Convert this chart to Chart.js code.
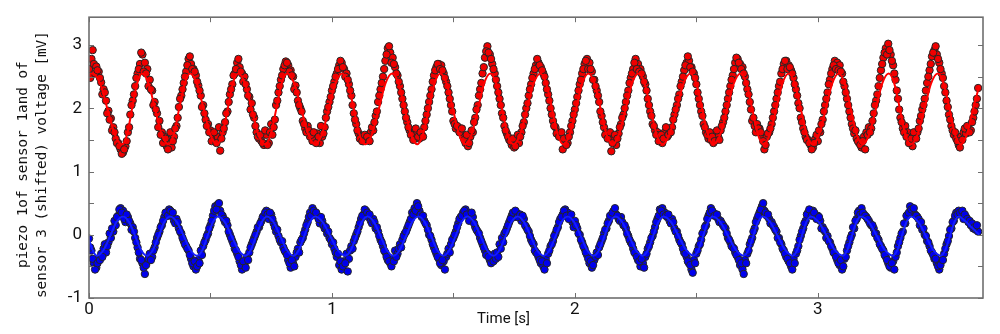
<!DOCTYPE html>
<html>
<head>
<meta charset="utf-8">
<script src="https://cdn.jsdelivr.net/npm/chart.js@4.4.1/dist/chart.umd.min.js"></script>
<style>
  html, body { margin: 0; padding: 0; background: #fff; }
  #wrap { width: 1000px; height: 334px; position: relative; }
</style>
</head>
<body>
<div id="wrap"><canvas id="myChart"></canvas></div>
<script>
// sample times [s], first pass
const t = [
  0.00,0.01,0.02,0.03,0.04,0.05,0.06,0.07,0.08,0.09,
  0.10,0.11,0.12,0.13,0.14,0.15,0.16,0.17,0.18,0.19,
  0.20,0.21,0.22,0.23,0.24,0.25,0.26,0.27,0.28,0.29,
  0.30,0.31,0.32,0.33,0.34,0.35,0.36,0.37,0.38,0.39,
  0.40,0.41,0.42,0.43,0.44,0.45,0.46,0.47,0.48,0.49,
  0.50,0.51,0.52,0.53,0.54,0.55,0.56,0.57,0.58,0.59,
  0.60,0.61,0.62,0.63,0.64,0.65,0.66,0.67,0.68,0.69,
  0.70,0.71,0.72,0.73,0.74,0.75,0.76,0.77,0.78,0.79,
  0.80,0.81,0.82,0.83,0.84,0.85,0.86,0.87,0.88,0.89,
  0.90,0.91,0.92,0.93,0.94,0.95,0.96,0.97,0.98,0.99,
  1.00,1.01,1.02,1.03,1.04,1.05,1.06,1.07,1.08,1.09,
  1.10,1.11,1.12,1.13,1.14,1.15,1.16,1.17,1.18,1.19,
  1.20,1.21,1.22,1.23,1.24,1.25,1.26,1.27,1.28,1.29,
  1.30,1.31,1.32,1.33,1.34,1.35,1.36,1.37,1.38,1.39,
  1.40,1.41,1.42,1.43,1.44,1.45,1.46,1.47,1.48,1.49,
  1.50,1.51,1.52,1.53,1.54,1.55,1.56,1.57,1.58,1.59,
  1.60,1.61,1.62,1.63,1.64,1.65,1.66,1.67,1.68,1.69,
  1.70,1.71,1.72,1.73,1.74,1.75,1.76,1.77,1.78,1.79,
  1.80,1.81,1.82,1.83,1.84,1.85,1.86,1.87,1.88,1.89,
  1.90,1.91,1.92,1.93,1.94,1.95,1.96,1.97,1.98,1.99,
  2.00,2.01,2.02,2.03,2.04,2.05,2.06,2.07,2.08,2.09,
  2.10,2.11,2.12,2.13,2.14,2.15,2.16,2.17,2.18,2.19,
  2.20,2.21,2.22,2.23,2.24,2.25,2.26,2.27,2.28,2.29,
  2.30,2.31,2.32,2.33,2.34,2.35,2.36,2.37,2.38,2.39,
  2.40,2.41,2.42,2.43,2.44,2.45,2.46,2.47,2.48,2.49,
  2.50,2.51,2.52,2.53,2.54,2.55,2.56,2.57,2.58,2.59,
  2.60,2.61,2.62,2.63,2.64,2.65,2.66,2.67,2.68,2.69,
  2.70,2.71,2.72,2.73,2.74,2.75,2.76,2.77,2.78,2.79,
  2.80,2.81,2.82,2.83,2.84,2.85,2.86,2.87,2.88,2.89,
  2.90,2.91,2.92,2.93,2.94,2.95,2.96,2.97,2.98,2.99,
  3.00,3.01,3.02,3.03,3.04,3.05,3.06,3.07,3.08,3.09,
  3.10,3.11,3.12,3.13,3.14,3.15,3.16,3.17,3.18,3.19,
  3.20,3.21,3.22,3.23,3.24,3.25,3.26,3.27,3.28,3.29,
  3.30,3.31,3.32,3.33,3.34,3.35,3.36,3.37,3.38,3.39,
  3.40,3.41,3.42,3.43,3.44,3.45,3.46,3.47,3.48,3.49,
  3.50,3.51,3.52,3.53,3.54,3.55,3.56,3.57,3.58,3.59,
  3.60,3.61,3.62,3.63,3.64,3.65,3.66
]

// piezo 1 (shifted up) [mV]
const redY = [
  2.62,2.78,2.70,2.66,2.58,2.41,2.30,2.12,1.96,1.84,
  1.70,1.52,1.45,1.35,1.30,1.40,1.62,1.90,2.12,2.35,
  2.55,2.70,2.85,2.72,2.62,2.45,2.28,2.10,1.92,1.80,
  1.62,1.55,1.40,1.50,1.38,1.55,1.72,2.02,2.20,2.40,
  2.58,2.78,2.70,2.62,2.52,2.36,2.20,2.05,1.82,1.75,
  1.65,1.58,1.50,1.55,1.33,1.62,1.78,1.95,2.22,2.38,
  2.55,2.72,2.65,2.55,2.50,2.30,2.18,2.08,1.85,1.62,
  1.52,1.48,1.42,1.58,1.45,1.75,1.70,2.05,2.25,2.45,
  2.62,2.74,2.68,2.60,2.50,2.36,2.12,2.00,1.80,1.68,
  1.72,1.55,1.48,1.52,1.60,1.45,1.55,1.70,1.95,2.10,
  2.28,2.42,2.55,2.68,2.72,2.62,2.55,2.38,2.20,1.92,
  1.75,1.60,1.55,1.48,1.52,1.58,1.62,1.65,1.88,2.10,
  2.30,2.50,2.75,2.95,2.88,2.80,2.65,2.52,2.35,2.15,
  1.95,1.78,1.65,1.58,1.62,1.60,1.52,1.58,1.70,1.90,
  2.10,2.30,2.52,2.65,2.70,2.68,2.55,2.42,2.25,2.05,
  1.80,1.68,1.70,1.62,1.55,1.45,1.40,1.55,1.62,1.85,
  2.05,2.30,2.55,2.80,2.98,2.85,2.70,2.55,2.35,2.15,
  1.92,1.72,1.60,1.50,1.42,1.38,1.52,1.45,1.62,1.78,
  2.00,2.20,2.38,2.55,2.68,2.72,2.65,2.55,2.40,2.22,
  2.00,1.80,1.70,1.62,1.58,1.35,1.50,1.45,1.62,1.80,
  1.98,2.18,2.38,2.55,2.70,2.78,2.72,2.58,2.45,2.28,
  2.10,1.88,1.70,1.62,1.55,1.32,1.50,1.42,1.60,1.75,
  1.90,2.10,2.28,2.48,2.62,2.78,2.70,2.62,2.50,2.38,
  2.15,1.95,1.75,1.65,1.62,1.55,1.45,1.62,1.55,1.65,
  1.70,1.90,2.05,2.22,2.42,2.60,2.72,2.75,2.65,2.55,
  2.38,2.15,1.95,1.75,1.62,1.52,1.50,1.45,1.58,1.55,
  1.65,1.78,1.95,2.15,2.35,2.52,2.72,2.78,2.70,2.65,
  2.50,2.30,2.10,1.80,1.72,1.75,1.68,1.58,1.35,1.55,
  1.62,1.75,1.95,2.15,2.35,2.55,2.70,2.75,2.68,2.60,
  2.48,2.30,2.08,1.85,1.68,1.55,1.50,1.42,1.38,1.52,
  1.48,1.62,1.82,2.05,2.25,2.45,2.62,2.75,2.72,2.68,
  2.55,2.35,2.15,1.95,1.75,1.60,1.52,1.45,1.38,1.55,
  1.62,1.70,1.68,1.92,2.12,2.35,2.60,2.80,2.95,3.02,
  2.85,2.68,2.45,2.15,1.85,1.68,1.72,1.62,1.50,1.40,
  1.55,1.62,1.80,1.98,2.15,2.40,2.60,2.82,2.92,2.85,
  2.72,2.55,2.35,2.12,1.90,1.72,1.58,1.52,1.42,1.55,
  1.62,1.60,1.70,1.65,1.85,2.05,2.32
]

// sensor 3 [mV]
const blueY = [
  -0.06,-0.25,-0.45,-0.52,-0.38,-0.30,-0.22,-0.28,-0.12,-0.05,
  0.05,0.15,0.30,0.42,0.38,0.20,0.28,0.18,0.12,-0.05,
  -0.20,-0.38,-0.45,-0.62,-0.42,-0.30,-0.35,-0.20,-0.05,0.05,
  0.15,0.28,0.35,0.40,0.30,0.22,0.25,0.10,0.02,-0.10,
  -0.18,-0.25,-0.38,-0.50,-0.55,-0.40,-0.25,-0.18,-0.08,0.02,
  0.15,0.30,0.45,0.48,0.38,0.30,0.20,0.15,0.00,-0.10,
  -0.22,-0.30,-0.42,-0.55,-0.48,-0.35,-0.28,-0.15,-0.05,0.05,
  0.12,0.22,0.30,0.38,0.25,0.32,0.18,0.05,-0.02,-0.12,
  -0.20,-0.28,-0.40,-0.52,-0.45,-0.35,-0.22,-0.12,-0.05,0.08,
  0.20,0.35,0.42,0.32,0.30,0.18,0.22,0.10,0.02,-0.05,
  -0.15,-0.22,-0.35,-0.48,-0.55,-0.42,-0.30,-0.38,-0.18,-0.10,
  0.00,0.12,0.25,0.32,0.38,0.28,0.22,0.25,0.10,0.05,
  -0.08,-0.18,-0.28,-0.40,-0.45,-0.38,-0.25,-0.30,-0.15,-0.08,
  0.02,0.10,0.20,0.35,0.42,0.50,0.38,0.28,0.22,0.15,
  0.00,-0.08,-0.20,-0.30,-0.38,-0.48,-0.42,-0.35,-0.22,-0.15,
  -0.05,0.05,0.18,0.28,0.35,0.40,0.30,0.25,0.28,0.12,
  0.05,-0.05,-0.15,-0.25,-0.30,-0.40,-0.38,-0.30,-0.28,-0.15,
  -0.05,0.02,0.10,0.20,0.30,0.28,0.35,0.30,0.22,0.25,
  0.12,0.05,-0.08,-0.15,-0.28,-0.35,-0.45,-0.50,-0.38,-0.30,
  -0.18,-0.10,0.02,0.12,0.25,0.32,0.40,0.35,0.28,0.20,
  0.22,0.10,0.00,-0.12,-0.22,-0.32,-0.45,-0.52,-0.40,-0.28,
  -0.20,-0.10,0.02,0.10,0.22,0.30,0.38,0.32,0.25,0.28,
  0.15,0.10,-0.02,-0.12,-0.22,-0.30,-0.40,-0.50,-0.45,-0.35,
  -0.22,-0.12,-0.02,0.12,0.25,0.40,0.42,0.35,0.28,0.22,
  0.25,0.10,0.05,-0.08,-0.15,-0.28,-0.35,-0.45,-0.55,-0.40,
  -0.30,-0.18,-0.08,0.05,0.15,0.30,0.42,0.35,0.30,0.25,
  0.22,0.15,0.10,-0.05,-0.12,-0.20,-0.28,-0.35,-0.48,-0.55,
  -0.40,-0.30,-0.15,-0.05,0.10,0.25,0.35,0.45,0.38,0.30,
  0.25,0.20,0.12,0.05,-0.05,-0.15,-0.25,-0.35,-0.42,-0.50,
  -0.38,-0.30,-0.18,-0.02,0.10,0.22,0.35,0.32,0.38,0.28,
  0.30,0.22,0.12,0.05,-0.02,-0.12,-0.22,-0.30,-0.40,-0.48,
  -0.55,-0.38,-0.25,-0.12,0.00,0.10,0.25,0.38,0.42,0.32,
  0.28,0.22,0.15,0.10,0.02,-0.08,-0.18,-0.25,-0.35,-0.45,
  -0.52,-0.42,-0.35,-0.18,-0.05,0.05,0.18,0.32,0.45,0.38,
  0.32,0.28,0.15,0.08,0.00,-0.10,-0.18,-0.28,-0.38,-0.45,
  -0.55,-0.40,-0.30,-0.15,-0.02,0.10,0.22,0.35,0.38,0.32,
  0.25,0.28,0.20,0.15,0.10,0.08,0.05
]

// sample times [s], second pass (in between)
const t2 = [
  0.005,0.015,0.025,0.035,0.045,0.055,0.065,0.075,0.085,0.095,
  0.105,0.115,0.125,0.135,0.145,0.155,0.165,0.175,0.185,0.195,
  0.205,0.215,0.225,0.235,0.245,0.255,0.265,0.275,0.285,0.295,
  0.305,0.315,0.325,0.335,0.345,0.355,0.365,0.375,0.385,0.395,
  0.405,0.415,0.425,0.435,0.445,0.455,0.465,0.475,0.485,0.495,
  0.505,0.515,0.525,0.535,0.545,0.555,0.565,0.575,0.585,0.595,
  0.605,0.615,0.625,0.635,0.645,0.655,0.665,0.675,0.685,0.695,
  0.705,0.715,0.725,0.735,0.745,0.755,0.765,0.775,0.785,0.795,
  0.805,0.815,0.825,0.835,0.845,0.855,0.865,0.875,0.885,0.895,
  0.905,0.915,0.925,0.935,0.945,0.955,0.965,0.975,0.985,0.995,
  1.005,1.015,1.025,1.035,1.045,1.055,1.065,1.075,1.085,1.095,
  1.105,1.115,1.125,1.135,1.145,1.155,1.165,1.175,1.185,1.195,
  1.205,1.215,1.225,1.235,1.245,1.255,1.265,1.275,1.285,1.295,
  1.305,1.315,1.325,1.335,1.345,1.355,1.365,1.375,1.385,1.395,
  1.405,1.415,1.425,1.435,1.445,1.455,1.465,1.475,1.485,1.495,
  1.505,1.515,1.525,1.535,1.545,1.555,1.565,1.575,1.585,1.595,
  1.605,1.615,1.625,1.635,1.645,1.655,1.665,1.675,1.685,1.695,
  1.705,1.715,1.725,1.735,1.745,1.755,1.765,1.775,1.785,1.795,
  1.805,1.815,1.825,1.835,1.845,1.855,1.865,1.875,1.885,1.895,
  1.905,1.915,1.925,1.935,1.945,1.955,1.965,1.975,1.985,1.995,
  2.005,2.015,2.025,2.035,2.045,2.055,2.065,2.075,2.085,2.095,
  2.105,2.115,2.125,2.135,2.145,2.155,2.165,2.175,2.185,2.195,
  2.205,2.215,2.225,2.235,2.245,2.255,2.265,2.275,2.285,2.295,
  2.305,2.315,2.325,2.335,2.345,2.355,2.365,2.375,2.385,2.395,
  2.405,2.415,2.425,2.435,2.445,2.455,2.465,2.475,2.485,2.495,
  2.505,2.515,2.525,2.535,2.545,2.555,2.565,2.575,2.585,2.595,
  2.605,2.615,2.625,2.635,2.645,2.655,2.665,2.675,2.685,2.695,
  2.705,2.715,2.725,2.735,2.745,2.755,2.765,2.775,2.785,2.795,
  2.805,2.815,2.825,2.835,2.845,2.855,2.865,2.875,2.885,2.895,
  2.905,2.915,2.925,2.935,2.945,2.955,2.965,2.975,2.985,2.995,
  3.005,3.015,3.025,3.035,3.045,3.055,3.065,3.075,3.085,3.095,
  3.105,3.115,3.125,3.135,3.145,3.155,3.165,3.175,3.185,3.195,
  3.205,3.215,3.225,3.235,3.245,3.255,3.265,3.275,3.285,3.295,
  3.305,3.315,3.325,3.335,3.345,3.355,3.365,3.375,3.385,3.395,
  3.405,3.415,3.425,3.435,3.445,3.455,3.465,3.475,3.485,3.495,
  3.505,3.515,3.525,3.535,3.545,3.555,3.565,3.575,3.585,3.595,
  3.605,3.615,3.625,3.635,3.645,3.655
]

const redY2 = [
  2.48,2.92,2.55,2.60,2.48,2.22,2.25,1.92,1.82,1.65,
  1.62,1.45,1.40,1.28,1.35,1.48,1.70,2.05,2.22,2.48,
  2.62,2.88,2.58,2.55,2.35,2.30,2.05,1.98,1.70,1.58,
  1.45,1.52,1.35,1.62,1.48,1.68,1.85,2.15,2.30,2.50,
  2.68,2.82,2.62,2.58,2.42,2.28,2.02,1.92,1.72,1.62,
  1.48,1.62,1.45,1.70,1.52,1.68,1.92,2.10,2.30,2.52,
  2.62,2.78,2.58,2.42,2.38,2.20,1.98,1.90,1.72,1.55,
  1.58,1.45,1.65,1.42,1.62,1.58,1.82,2.12,2.35,2.52,
  2.68,2.72,2.58,2.52,2.30,2.25,2.05,1.95,1.75,1.62,
  1.65,1.58,1.62,1.45,1.55,1.72,1.60,1.85,2.02,2.18,
  2.35,2.50,2.62,2.75,2.65,2.50,2.45,2.28,2.05,1.82,
  1.65,1.52,1.48,1.58,1.55,1.48,1.70,1.78,1.95,2.20,
  2.40,2.62,2.85,2.98,2.72,2.70,2.55,2.42,2.25,2.05,
  1.85,1.70,1.58,1.50,1.68,1.55,1.62,1.55,1.80,2.00,
  2.20,2.42,2.60,2.70,2.62,2.60,2.48,2.35,2.15,1.95,
  1.75,1.72,1.62,1.68,1.50,1.58,1.45,1.65,1.78,1.98,
  2.20,2.40,2.65,2.90,2.88,2.78,2.62,2.45,2.25,2.05,
  1.85,1.65,1.55,1.48,1.52,1.40,1.58,1.55,1.72,1.90,
  2.08,2.30,2.48,2.62,2.78,2.68,2.60,2.50,2.30,2.12,
  1.90,1.72,1.60,1.55,1.62,1.52,1.42,1.55,1.72,1.90,
  2.08,2.28,2.45,2.62,2.75,2.62,2.62,2.45,2.35,2.20,
  1.95,1.78,1.58,1.52,1.62,1.45,1.58,1.52,1.70,1.85,
  2.00,2.20,2.40,2.55,2.72,2.62,2.58,2.55,2.42,2.28,
  2.05,1.88,1.72,1.58,1.48,1.58,1.52,1.70,1.58,1.62,
  1.82,1.98,2.15,2.35,2.50,2.68,2.82,2.65,2.58,2.48,
  2.25,2.05,1.88,1.70,1.58,1.62,1.55,1.48,1.65,1.50,
  1.72,1.85,2.05,2.25,2.45,2.62,2.80,2.72,2.62,2.55,
  2.40,2.22,1.98,1.85,1.62,1.68,1.62,1.48,1.42,1.60,
  1.68,1.85,2.05,2.25,2.42,2.62,2.75,2.62,2.65,2.55,
  2.38,2.20,2.00,1.78,1.62,1.50,1.45,1.35,1.45,1.58,
  1.65,1.75,1.95,2.15,2.38,2.55,2.68,2.62,2.60,2.58,
  2.42,2.25,2.05,1.85,1.68,1.65,1.48,1.42,1.48,1.35,
  1.58,1.62,1.80,2.05,2.22,2.48,2.70,2.88,2.85,2.92,
  2.75,2.55,2.28,1.98,1.78,1.62,1.55,1.45,1.52,1.62,
  1.52,1.68,1.88,2.05,2.28,2.50,2.70,2.88,2.98,2.78,
  2.62,2.48,2.25,2.02,1.82,1.65,1.62,1.48,1.38,1.50,
  1.68,1.72,1.62,1.78,1.95,2.15
]

const blueY2 = [
  -0.20,-0.38,-0.55,-0.45,-0.40,-0.35,-0.15,-0.18,0.02,0.10,
  0.22,0.28,0.40,0.35,0.25,0.32,0.22,0.08,0.05,-0.12,
  -0.28,-0.40,-0.52,-0.48,-0.38,-0.40,-0.25,-0.12,0.00,0.12,
  0.22,0.35,0.30,0.38,0.35,0.18,0.20,0.05,-0.05,-0.15,
  -0.22,-0.32,-0.45,-0.42,-0.50,-0.45,-0.32,-0.12,-0.02,0.10,
  0.22,0.38,0.40,0.50,0.32,0.25,0.22,0.05,-0.05,-0.15,
  -0.25,-0.35,-0.48,-0.42,-0.52,-0.40,-0.20,-0.10,0.00,0.12,
  0.18,0.28,0.35,0.32,0.35,0.25,0.12,0.08,-0.08,-0.10,
  -0.25,-0.32,-0.45,-0.40,-0.50,-0.28,-0.28,-0.08,0.02,0.15,
  0.28,0.30,0.38,0.35,0.25,0.28,0.15,0.12,0.05,-0.08,
  -0.12,-0.28,-0.30,-0.42,-0.50,-0.45,-0.58,-0.25,-0.22,-0.05,
  0.05,0.18,0.30,0.40,0.35,0.32,0.18,0.20,0.12,-0.02,
  -0.12,-0.25,-0.35,-0.42,-0.50,-0.42,-0.35,-0.22,-0.20,-0.02,
  0.05,0.15,0.25,0.32,0.38,0.45,0.32,0.30,0.18,0.08,
  -0.02,-0.15,-0.25,-0.35,-0.45,-0.40,-0.55,-0.30,-0.28,-0.08,
  0.00,0.12,0.25,0.30,0.38,0.32,0.22,0.35,0.18,0.08,
  0.02,-0.10,-0.20,-0.32,-0.35,-0.45,-0.42,-0.38,-0.35,-0.22,
  -0.12,0.05,0.15,0.25,0.35,0.38,0.28,0.32,0.30,0.15,
  0.08,-0.02,-0.12,-0.25,-0.30,-0.40,-0.42,-0.55,-0.45,-0.25,
  -0.15,-0.02,0.08,0.20,0.28,0.38,0.30,0.25,0.32,0.12,
  0.15,0.02,-0.08,-0.18,-0.28,-0.38,-0.42,-0.48,-0.35,-0.32,
  -0.15,-0.05,0.08,0.18,0.30,0.35,0.42,0.30,0.22,0.20,
  0.15,0.02,-0.08,-0.15,-0.28,-0.35,-0.42,-0.38,-0.52,-0.30,
  -0.18,-0.05,0.05,0.20,0.30,0.38,0.32,0.30,0.32,0.18,
  0.20,0.05,-0.02,-0.12,-0.22,-0.30,-0.42,-0.48,-0.60,-0.45,
  -0.25,-0.15,0.02,0.12,0.25,0.35,0.38,0.30,0.32,0.20,
  0.18,0.12,0.02,-0.08,-0.18,-0.22,-0.32,-0.40,-0.45,-0.62,
  -0.45,-0.25,-0.10,0.05,0.20,0.30,0.40,0.50,0.35,0.32,
  0.18,0.15,0.08,-0.05,-0.12,-0.22,-0.30,-0.38,-0.45,-0.55,
  -0.45,-0.25,-0.08,0.05,0.18,0.32,0.40,0.30,0.35,0.25,
  0.28,0.10,0.08,-0.05,-0.10,-0.18,-0.28,-0.35,-0.45,-0.40,
  -0.50,-0.35,-0.18,-0.05,0.12,0.22,0.35,0.32,0.35,0.30,
  0.25,0.18,0.15,0.02,-0.05,-0.15,-0.22,-0.32,-0.40,-0.50,
  -0.45,-0.55,-0.28,-0.12,0.02,0.18,0.30,0.35,0.40,0.42,
  0.30,0.25,0.20,0.10,-0.02,-0.12,-0.25,-0.32,-0.38,-0.50,
  -0.48,-0.40,-0.22,-0.10,0.08,0.20,0.30,0.32,0.35,0.38,
  0.32,0.25,0.22,0.18,0.12,0.15
]

// fitted curves (read at peaks, troughs and in between)
const redFitT = [
  0, 0.016,
  0.046,0.076,0.106,0.136,0.157,0.177,0.198,0.218,
  0.245,0.272,0.299,0.326,0.349,0.371,0.394,0.416,
  0.444,0.472,0.499,0.527,0.549,0.571,0.592,0.614,
  0.642,0.670,0.697,0.725,0.748,0.771,0.793,0.816,
  0.845,0.874,0.902,0.931,0.959,0.987,1.014,1.042,
  1.066,1.090,1.113,1.137,1.165,1.193,1.220,1.248,
  1.274,1.300,1.325,1.351,1.375,1.399,1.422,1.446,
  1.472,1.498,1.523,1.549,1.575,1.601,1.626,1.652,
  1.676,1.700,1.723,1.747,1.775,1.803,1.830,1.858,
  1.882,1.906,1.929,1.953,1.979,2.005,2.030,2.056,
  2.081,2.106,2.130,2.155,2.182,2.209,2.235,2.262,
  2.287,2.312,2.336,2.361,2.390,2.419,2.447,2.476,
  2.500,2.524,2.547,2.571,2.599,2.627,2.654,2.682,
  2.706,2.730,2.753,2.777,2.803,2.829,2.854,2.880,
  2.905,2.930,2.954,2.979,3.006,3.033,3.059,3.086,
  3.111,3.136,3.160,3.185,3.212,3.239,3.265,3.292,
  3.315,3.338,3.360,3.383,3.411,3.439,3.466,3.494,
  3.518,3.542,3.565,3.589,
  3.614,3.639,3.665
]
const redFitY = [
  2.54, 2.55,
  2.39,1.99,1.59,1.43,1.59,1.99,2.39,2.55,
  2.39,1.99,1.59,1.43,1.59,1.99,2.39,2.55,
  2.39,1.99,1.59,1.43,1.59,1.99,2.39,2.55,
  2.39,1.99,1.59,1.43,1.59,1.99,2.39,2.55,
  2.39,1.99,1.59,1.43,1.59,1.99,2.39,2.55,
  2.39,1.99,1.59,1.43,1.59,1.99,2.39,2.55,
  2.39,1.99,1.59,1.43,1.59,1.99,2.39,2.55,
  2.39,1.99,1.59,1.43,1.59,1.99,2.39,2.55,
  2.39,1.99,1.59,1.43,1.59,1.99,2.39,2.55,
  2.39,1.99,1.59,1.43,1.59,1.99,2.39,2.55,
  2.39,1.99,1.59,1.43,1.59,1.99,2.39,2.55,
  2.39,1.99,1.59,1.43,1.59,1.99,2.39,2.55,
  2.39,1.99,1.59,1.43,1.59,1.99,2.39,2.55,
  2.39,1.99,1.59,1.43,1.59,1.99,2.39,2.55,
  2.39,1.99,1.59,1.43,1.59,1.99,2.39,2.55,
  2.39,1.99,1.59,1.43,1.59,1.99,2.39,2.55,
  2.39,1.99,1.59,1.43,1.59,1.99,2.39,2.55,
  2.39,1.99,1.59,1.43,
  1.59,1.99,2.36
]

const blueFitT = [
  0, 0.017, 0.033,
  0.060,0.087,0.113,0.140, 0.165,0.190,0.214,0.239,
  0.263,0.287,0.310,0.334, 0.362,0.390,0.417,0.445,
  0.467,0.488,0.510,0.531, 0.559,0.587,0.615,0.643,
  0.666,0.688,0.711,0.733, 0.760,0.787,0.814,0.841,
  0.864,0.886,0.909,0.931, 0.962,0.993,1.024,1.055,
  1.078,1.101,1.123,1.146, 1.173,1.200,1.226,1.253,
  1.279,1.305,1.330,1.356, 1.382,1.408,1.433,1.459,
  1.484,1.509,1.533,1.558, 1.585,1.612,1.638,1.665,
  1.690,1.715,1.739,1.764, 1.791,1.818,1.844,1.871,
  1.896,1.921,1.945,1.970, 1.997,2.024,2.050,2.077,
  2.100,2.122,2.145,2.167, 2.195,2.223,2.251,2.279,
  2.301,2.322,2.344,2.365, 2.396,2.427,2.458,2.489,
  2.509,2.528,2.548,2.567, 2.599,2.631,2.663,2.695,
  2.715,2.734,2.754,2.773, 2.804,2.835,2.866,2.897,
  2.916,2.934,2.953,2.971, 3.004,3.037,3.070,3.103,
  3.122,3.140,3.159,3.177, 3.210,3.243,3.276,3.309,
  3.328,3.346,3.365,3.383, 3.414,3.445,3.475,3.506,
  3.525,3.544,3.562,3.581,
  3.605,3.635,3.665
]
const blueFitY = [
  -0.08, -0.26, -0.33,
  -0.24,-0.02,0.20,0.29, 0.20,-0.02,-0.24,-0.33,
  -0.24,-0.02,0.20,0.29, 0.20,-0.02,-0.24,-0.33,
  -0.24,-0.02,0.20,0.29, 0.20,-0.02,-0.24,-0.33,
  -0.24,-0.02,0.20,0.29, 0.20,-0.02,-0.24,-0.33,
  -0.24,-0.02,0.20,0.29, 0.20,-0.02,-0.24,-0.33,
  -0.24,-0.02,0.20,0.29, 0.20,-0.02,-0.24,-0.33,
  -0.24,-0.02,0.20,0.29, 0.20,-0.02,-0.24,-0.33,
  -0.24,-0.02,0.20,0.29, 0.20,-0.02,-0.24,-0.33,
  -0.24,-0.02,0.20,0.29, 0.20,-0.02,-0.24,-0.33,
  -0.24,-0.02,0.20,0.29, 0.20,-0.02,-0.24,-0.33,
  -0.24,-0.02,0.20,0.29, 0.20,-0.02,-0.24,-0.33,
  -0.24,-0.02,0.20,0.29, 0.20,-0.02,-0.24,-0.33,
  -0.24,-0.02,0.20,0.29, 0.20,-0.02,-0.24,-0.33,
  -0.24,-0.02,0.20,0.29, 0.20,-0.02,-0.24,-0.33,
  -0.24,-0.02,0.20,0.29, 0.20,-0.02,-0.24,-0.33,
  -0.24,-0.02,0.20,0.29, 0.20,-0.02,-0.24,-0.33,
  -0.24,-0.02,0.20,0.29, 0.20,-0.02,-0.24,-0.33,
  -0.24,-0.02,0.20,0.29,
  0.22,0.11,0.00
]

const yTitle = ['piezo 1of sensor 1and of', 'sensor 3 (shifted) voltage [mV]']
const xTitle = 'Time [s]'

function pts(xs, ys) {
  return xs.map((v, i) => ({x: v, y: ys[i]}))
}
function onHalf(v) {
  return Math.abs(v * 2 - Math.round(v * 2)) < 1e-6
}

// frame with inward ticks on all four sides + the axis titles
const frame = {
  id: 'frame',
  afterDraw(chart) {
    const {ctx, chartArea: a, scales: {x, y}} = chart
    ctx.save()
    ctx.strokeStyle = '#6e6e6e'
    ctx.lineWidth = 1
    ctx.beginPath()
    x.ticks.forEach(tk => {
      if (!onHalf(tk.value)) return
      const px = Math.round(x.getPixelForValue(tk.value)) + 0.5
      ctx.moveTo(px, a.bottom); ctx.lineTo(px, a.bottom - 5)
      ctx.moveTo(px, a.top); ctx.lineTo(px, a.top + 5)
    })
    y.ticks.forEach(tk => {
      if (!onHalf(tk.value)) return
      const py = Math.round(y.getPixelForValue(tk.value)) + 0.5
      ctx.moveTo(a.left, py); ctx.lineTo(a.left + 5, py)
      ctx.moveTo(a.right, py); ctx.lineTo(a.right - 5, py)
    })
    ctx.stroke()
    ctx.lineWidth = 1.6
    ctx.strokeRect(a.left, a.top, a.right - a.left, a.bottom - a.top)

    ctx.fillStyle = '#111'
    ctx.font = '15px Roboto'
    ctx.textAlign = 'center'
    ctx.textBaseline = 'alphabetic'
    ctx.fillText(xTitle, x.getPixelForValue(1.706), 323)

    ctx.font = '14.3px "DejaVu Sans Mono"'
    ctx.textBaseline = 'middle'
    const cy = (a.top + a.bottom) / 2 + 7
    ctx.translate(23, cy)
    ctx.rotate(-Math.PI / 2)
    ctx.fillText(yTitle[0], 0, 0)
    ctx.fillText(yTitle[1], 0, 19)
    ctx.restore()
  }
}

const ctx = document.getElementById('myChart')

const dot = {
  pointRadius: 3.7,
  pointBorderColor: '#252525',
  pointBorderWidth: 1,
  order: 1
}

new Chart(ctx, {
  type: 'scatter',
  data: {
    datasets: [
      {
        label: 'piezo 1 fit',
        data: pts(redFitT, redFitY),
        showLine: true,
        cubicInterpolationMode: 'monotone',
        borderColor: 'rgb(255,0,0)',
        borderWidth: 2,
        pointRadius: 0,
        order: 0
      },
      {
        label: 'sensor 3 fit',
        data: pts(blueFitT, blueFitY),
        showLine: true,
        cubicInterpolationMode: 'monotone',
        borderColor: 'rgb(20,30,255)',
        borderWidth: 2,
        pointRadius: 0,
        order: 0
      },
      Object.assign({
        label: 'piezo 1',
        data: pts(t, redY).concat(pts(t2, redY2)),
        pointBackgroundColor: 'rgb(240,0,0)'
      }, dot),
      Object.assign({
        label: 'sensor 3',
        data: pts(t, blueY).concat(pts(t2, blueY2)),
        pointBackgroundColor: 'rgb(0,0,238)'
      }, dot)
    ]
  },
  options: {
    responsive: true,
    maintainAspectRatio: false,
    animation: false,
    events: [],
    layout: { padding: { left: 0, right: 17, top: 13, bottom: 0 } },
    plugins: { legend: { display: false }, tooltip: { enabled: false } },
    scales: {
      x: {
        type: 'linear',
        min: 0,
        max: 3.68,
        grid: { display: false, drawTicks: false },
        border: { display: false },
        afterFit: s => { s.height = 36 },
        ticks: {
          stepSize: 0.5,
          autoSkip: false,
          maxRotation: 0,
          padding: 2,
          color: '#111',
          font: { family: 'Roboto', size: 17 },
          callback: v => Math.abs(v - Math.round(v)) < 1e-6 ? Math.round(v) : ''
        }
      },
      y: {
        min: -1,
        max: 3.44,
        grid: { display: false, drawTicks: false },
        border: { display: false },
        afterFit: s => { s.width = 89 },
        ticks: {
          stepSize: 0.5,
          autoSkip: false,
          padding: 7,
          color: '#111',
          font: { family: 'Roboto', size: 17 },
          callback: v => Math.abs(v - Math.round(v)) < 1e-6 ? Math.round(v) : ''
        }
      }
    }
  },
  plugins: [frame]
})
</script>
</body>
</html>
